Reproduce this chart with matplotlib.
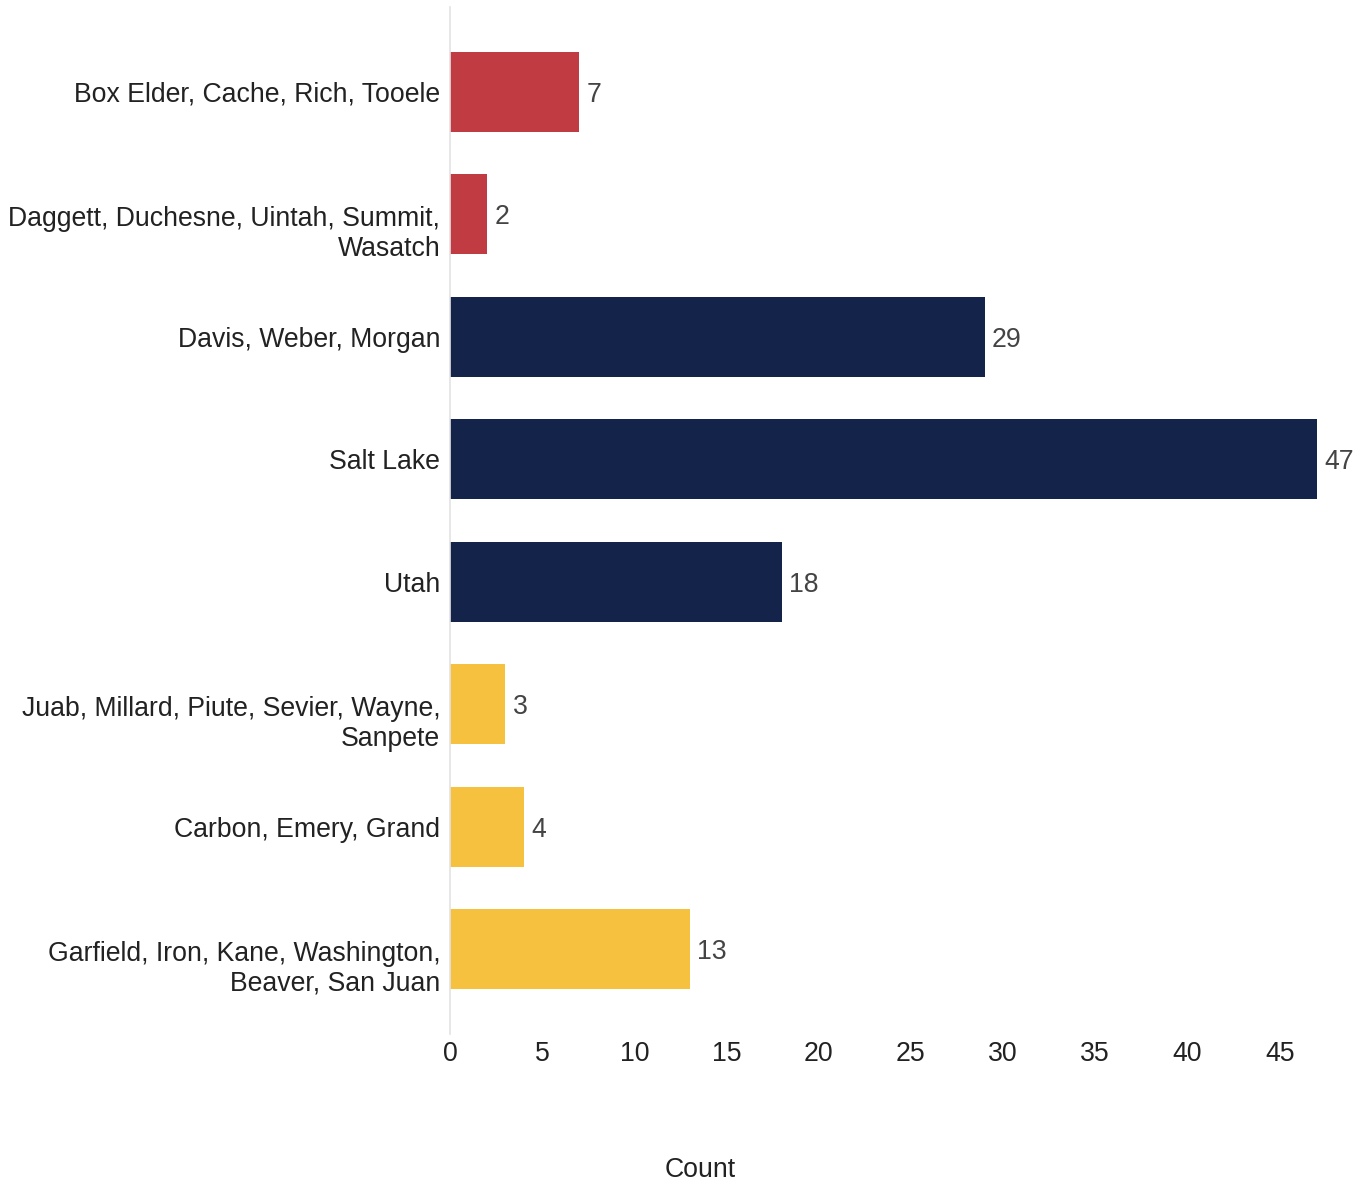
import matplotlib.pyplot as plt
from matplotlib.transforms import ScaledTranslation

plt.rcParams['font.family'] = ['Liberation Sans', 'DejaVu Sans']

regions = [
    "Box Elder, Cache, Rich, Tooele",
    "Daggett, Duchesne, Uintah, Summit,\nWasatch",
    "Davis, Weber, Morgan",
    "Salt Lake",
    "Utah",
    "Juab, Millard, Piute, Sevier, Wayne,\nSanpete",
    "Carbon, Emery, Grand",
    "Garfield, Iron, Kane, Washington,\nBeaver, San Juan",
]
counts = [7, 2, 29, 47, 18, 3, 4, 13]
groups = ["north", "north", "wasatch", "wasatch", "wasatch", "south", "south", "south"]
group_colors = {"north": "#C03B42", "wasatch": "#13234A", "south": "#F5C13E"}

fs = 19.2

fig = plt.figure(figsize=(13.67, 11.84), dpi=100)
ax = fig.add_axes([450 / 1367, 1 - 1034 / 1184, (1335 - 450) / 1367, 1027 / 1184])

ypos = list(range(len(regions)))
ax.barh(ypos, counts, height=0.654, color=[group_colors[g] for g in groups])

for y, v in zip(ypos, counts):
    ax.text(v + 0.4, y, str(v), va='center_baseline', ha='left', fontsize=fs, color='#444444')

ax.set_xlim(0, 48)
ax.set_ylim(7.694, -0.694)
ax.set_yticks(ypos)
ax.set_yticklabels(regions, fontsize=fs, color='#222222', linespacing=1.18)
ax.set_xticks(range(0, 50, 5))
ax.tick_params(axis='x', labelsize=fs, labelcolor='#222222', length=0, pad=5)
ax.tick_params(axis='y', length=0, pad=7)

# two-line labels: first line sits level with the bar, second hangs below
shift = ScaledTranslation(0, -0.15, fig.dpi_scale_trans)
for lab in ax.get_yticklabels():
    if "\n" in lab.get_text():
        lab.set_transform(lab.get_transform() + shift)

for side in ['top', 'right', 'bottom']:
    ax.spines[side].set_visible(False)
ax.spines['left'].set_color('#e3e3e3')
ax.spines['left'].set_linewidth(1.2)

fig.text(700 / 1367, 1 - 1170 / 1184, "Count", ha='center', va='center', fontsize=fs, color='#222222')

fig.savefig('out.png', dpi=100)
